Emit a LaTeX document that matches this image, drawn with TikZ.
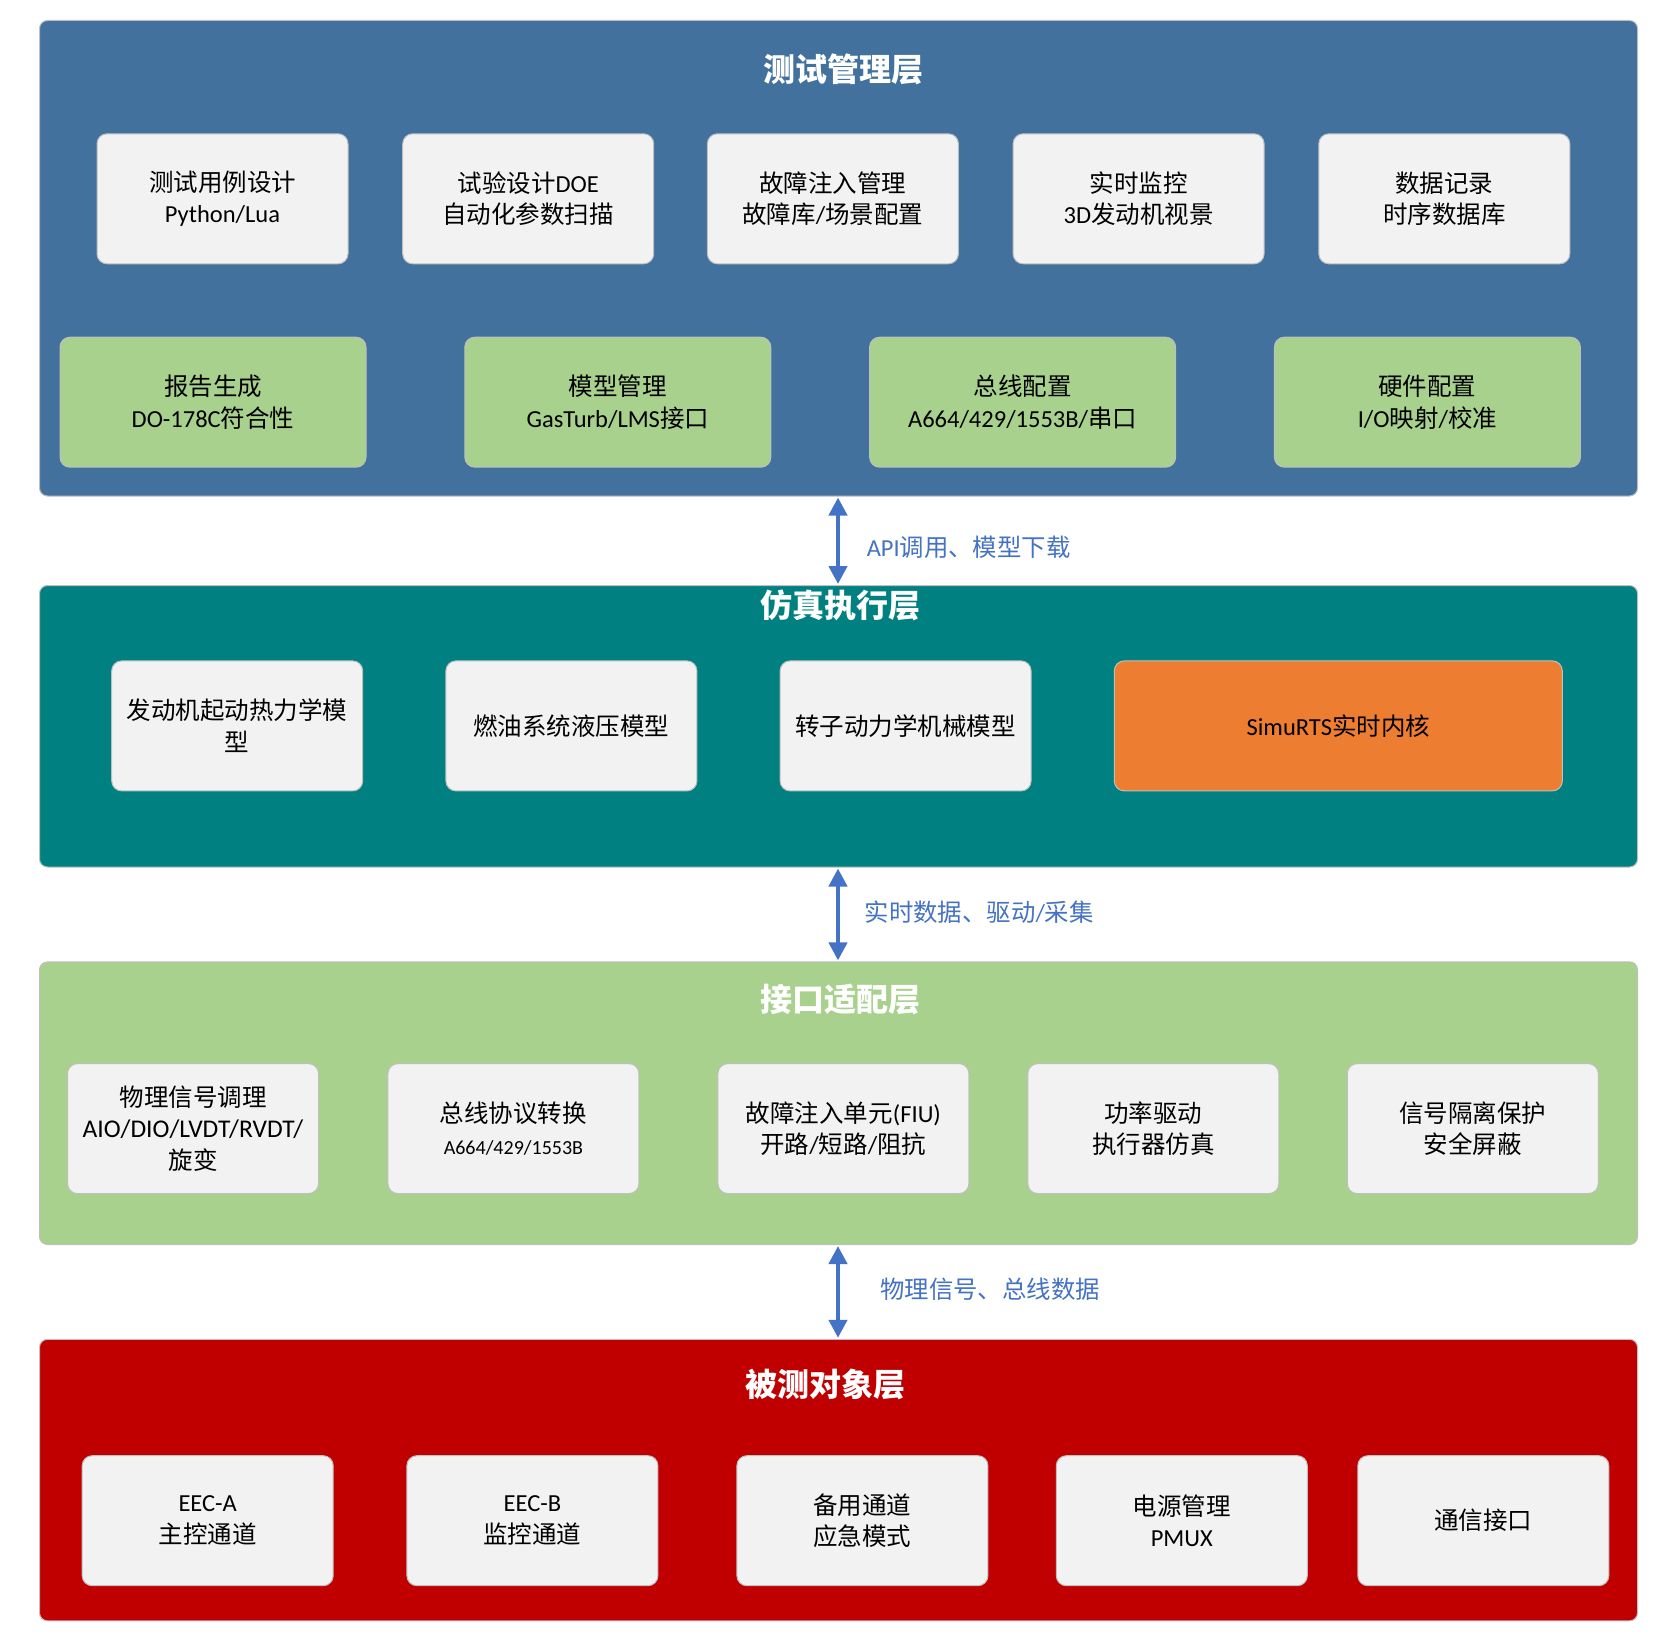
\documentclass[tikz,border=0pt]{standalone}
\usepackage{fontspec}
\setmainfont{Carlito}
\newfontfamily\cjk{Noto Sans CJK SC}
\usetikzlibrary{arrows.meta}
\definecolor{mgmtblue}{HTML}{41719C}
\definecolor{simteal}{HTML}{008080}
\definecolor{ifgreen}{HTML}{A9D18E}
\definecolor{dutred}{HTML}{C00000}
\definecolor{coreorange}{HTML}{ED7D31}
\definecolor{boxgray}{HTML}{F2F2F2}
\definecolor{edgegray}{HTML}{BFBFBF}
\definecolor{arrowblue}{HTML}{4472C4}
\newcommand\zh[1]{{\cjk #1}}
\tikzset{
  layer/.style={draw=edgegray, line width=1pt, rounded corners=8pt, anchor=north west, minimum width=1598pt, inner sep=0pt},
  ltitle/.style={text=white, font=\cjk\bfseries\fontsize{32}{38}\selectfont, inner sep=0pt},
  gbox/.style={draw=edgegray, line width=1pt, fill=boxgray, rounded corners=10pt, minimum width=251pt, minimum height=130pt, align=center, text=black, font=\fontsize{24.5}{31.6}\selectfont, inner sep=2pt},
  greenbox/.style={gbox, fill=ifgreen, minimum width=306pt},
  orangebox/.style={gbox, fill=coreorange, minimum width=448pt},
  link/.style={draw=arrowblue, line width=4.2pt, {Triangle[width=18pt,length=18pt]}-{Triangle[width=18pt,length=18pt]}, shorten <=1pt, shorten >=1pt},
  linklabel/.style={text=arrowblue, font=\fontsize{24.4}{28}\selectfont, anchor=west, inner sep=0pt},
}
\begin{document}
\begin{tikzpicture}[x=1pt,y=-1pt]
\useasboundingbox (0,0) rectangle (1653,1645);
\fill[white] (0,0) rectangle (1653,1645);
% layers
\node[layer, fill=mgmtblue, minimum height=475.5pt] (L1) at (39,20) {};
\node[layer, fill=simteal, minimum height=281.5pt] (L2) at (39,585) {};
\node[layer, fill=ifgreen, minimum height=282.6pt] (L3) at (39,961.4) {};
\node[layer, fill=dutred, minimum height=281.5pt] (L4) at (39,1338.8) {};
% titles
\node[ltitle] (T1) at (843,69.6) {测试管理层};
\node[ltitle] (T2) at (840,605) {仿真执行层};
\node[ltitle] (T3) at (840,999) {接口适配层};
\node[ltitle] (T4) at (825,1384) {被测对象层};
% management layer row 1
\node[gbox] (m1) at (222.5,198.8) {\zh{测试用例设计}\\Python/Lua};
\node[gbox] (m2) at (528.2,198.8) {\zh{试验设计}DOE\\\zh{自动化参数扫描}};
\node[gbox] (m3) at (832.9,198.8) {\zh{故障注入管理}\\\zh{故障库}/\zh{场景配置}};
\node[gbox] (m4) at (1138.6,198.8) {\zh{实时监控}\\3D\zh{发动机视景}};
\node[gbox] (m5) at (1444.3,198.8) {\zh{数据记录}\\\zh{时序数据库}};
% management layer row 2
\node[greenbox] (g1) at (213,402.2) {\zh{报告生成}\\DO-178C\zh{符合性}};
\node[greenbox] (g2) at (617.8,402.2) {\zh{模型管理}\\GasTurb/LMS\zh{接口}};
\node[greenbox] (g3) at (1022.6,402.2) {\zh{总线配置}\\A664/429/1553B/\zh{串口}};
\node[greenbox] (g4) at (1427.4,402.2) {\zh{硬件配置}\\I/O\zh{映射}/\zh{校准}};
% simulation layer
\node[gbox] (s1) at (237.2,725.9) {\zh{发动机起动热力学模}\\\zh{型}};
\node[gbox] (s2) at (571.4,725.9) {\zh{燃油系统液压模型}};
\node[gbox] (s3) at (905.6,725.9) {\zh{转子动力学机械模型}};
\node[orangebox] (s4) at (1338.3,725.9) {SimuRTS\zh{实时内核}};
% interface layer
\node[gbox] (i1) at (193,1128.6) {\zh{物理信号调理}\\{\fontsize{25.5}{31.6}\selectfont AIO/DIO/LVDT/RVDT/}\\\zh{旋变}};
\node[gbox] (i2) at (513.4,1128.6) {\zh{总线协议转换}\\{\fontsize{20}{31.6}\selectfont A664/429/1553B}};
\node[gbox] (i3) at (843.4,1128.6) {\zh{故障注入单元}(FIU)\\\zh{开路}/\zh{短路}/\zh{阻抗}};
\node[gbox] (i4) at (1153.3,1128.6) {\zh{功率驱动}\\\zh{执行器仿真}};
\node[gbox] (i5) at (1472.8,1128.6) {\zh{信号隔离保护}\\\zh{安全屏蔽}};
% device under test layer
\node[gbox] (d1) at (207.7,1520.7) {EEC-A\\\zh{主控通道}};
\node[gbox] (d2) at (532.4,1520.7) {EEC-B\\\zh{监控通道}};
\node[gbox] (d3) at (862.4,1520.7) {\zh{备用通道}\\\zh{应急模式}};
\node[gbox] (d4) at (1181.8,1520.7) {\zh{电源管理}\\PMUX};
\node[gbox] (d5) at (1483.3,1520.7) {\zh{通信接口}};
% connectors
\coordinate (ax) at (838,0);
\draw[link] (L1.south -| ax) -- (L2.north -| ax);
\draw[link] (L2.south -| ax) -- (L3.north -| ax);
\draw[link] (L3.south -| ax) -- (L4.north -| ax);
\node[linklabel] (lab1) at (866.6,547) {API\zh{调用、模型下载}};
\node[linklabel] (lab2) at (864.5,912) {\zh{实时数据、驱动}/\zh{采集}};
\node[linklabel] (lab3) at (880,1289) {\zh{物理信号、总线数据}};
\end{tikzpicture}
\end{document}
